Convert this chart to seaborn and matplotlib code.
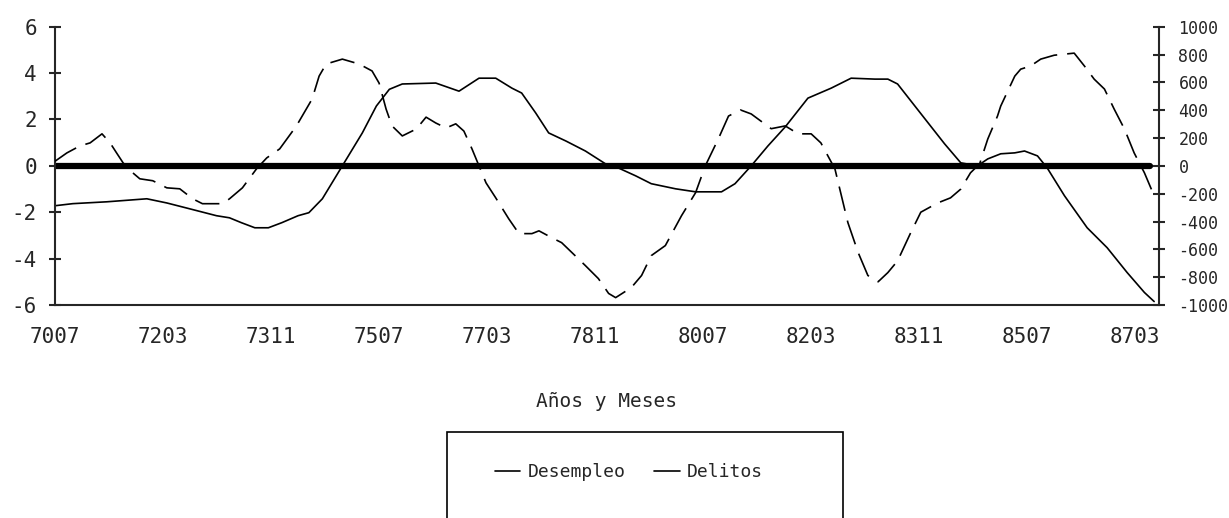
import numpy as np
import pandas as pd
import matplotlib
matplotlib.use("Agg")
import matplotlib.pyplot as plt
import seaborn as sns
from matplotlib.lines import Line2D
from matplotlib.patches import Rectangle

# --- Data ---
# x = months since 7007 (July 1970)
tick_pos = [0, 20, 40, 60, 80, 100, 120, 140, 160, 180, 200]
tick_labels = ["7007", "7203", "7311", "7507", "7703", "7811",
               "8007", "8203", "8311", "8507", "8703"]

desempleo_mes = [0, 3.3, 9.6, 17, 20.7, 24.9, 29.9, 32.3, 34.5, 37, 39.5, 42, 45, 47,
                 49.5, 53.2, 56.9, 59.5, 61.9, 64.3, 67.4, 70.5, 74.8, 78.5, 81.6,
                 84.6, 86.4, 89, 91.4, 94.6, 98.2, 101.9, 104.3, 107.5, 110.4, 114.9,
                 118.6, 123.4, 125.9, 128.9, 132, 135.2, 139.4, 143.7, 147.4, 151.8,
                 154.2, 156, 159.2, 162.1, 164.7, 167.7, 170.8, 172.7, 175.1, 177.7,
                 179.5, 181.9, 183.7, 186.9, 191.1, 194.8, 198.5, 201.7, 203.5]
desempleo = [-1.72, -1.63, -1.55, -1.42, -1.6, -1.85, -2.15, -2.24, -2.45, -2.67, -2.67,
             -2.45, -2.15, -2.02, -1.42, 0.0, 1.42, 2.58, 3.3, 3.53, 3.55, 3.57, 3.22,
             3.78, 3.78, 3.35, 3.14, 2.28, 1.42, 1.07, 0.64, 0.09, -0.09, -0.43, -0.77,
             -0.99, -1.12, -1.12, -0.77, 0.0, 0.86, 1.68, 2.92, 3.35, 3.78, 3.74, 3.74,
             3.53, 2.58, 1.72, 0.95, 0.13, 0.0, 0.3, 0.52, 0.56, 0.64, 0.43, -0.09,
             -1.29, -2.67, -3.53, -4.6, -5.46, -5.85]

delitos_mes = [0, 2.2, 4.6, 6.5, 8.7, 10.2, 11.4, 12.6, 14.4, 15.7, 18.1, 20.7, 23.1,
               25.5, 27.3, 31, 32.3, 34.7, 37.3, 39.2, 41.6, 44.7, 47.6, 48.9, 50.2,
               53.2, 56.3, 58.7, 60, 61.3, 62.4, 64.3, 66.9, 68.7, 70.5, 72.4, 74.2,
               75.7, 77.2, 78.5, 79.8, 81.6, 84, 85.9, 88.3, 89.6, 92, 93.8, 95.7, 98.2,
               100.6, 102.5, 103.8, 106.7, 108.6, 110.4, 113, 116, 118.6, 120.4, 122.8,
               124.7, 126.9, 128.9, 132.6, 135.2, 137.6, 140, 141.8, 144.4, 146.8,
               148.7, 150.5, 152.4, 154.2, 156, 158.4, 160.3, 163.4, 165.8, 167.7,
               169.5, 171.2, 172.7, 174.5, 175.1, 177.7, 178.8, 180.6, 182.5, 185,
               188.7, 190.6, 192.4, 194.3, 196.1, 198, 199.8, 201.7, 203.5]
delitos = [33, 93, 143, 165, 230, 165, 93, 22, -50, -93, -107, -158, -165, -237, -272,
           -272, -237, -158, -22, 57, 122, 287, 480, 645, 732, 767, 732, 682, 595, 408,
           287, 215, 265, 350, 308, 272, 302, 250, 122, 0, -122, -230, -380, -487, -487,
           -467, -517, -552, -623, -717, -810, -917, -947, -875, -788, -645, -573, -358,
           -193, 0, 193, 358, 402, 373, 267, 287, 230, 230, 165, -22, -408, -623, -788,
           -833, -767, -683, -483, -333, -267, -230, -167, -50, 15, 193, 358, 430, 645,
           695, 717, 767, 795, 810, 717, 623, 552, 408, 265, 93, -50, -215]

df_des = pd.DataFrame({"mes": desempleo_mes, "valor": desempleo})
df_del = pd.DataFrame({"mes": delitos_mes, "valor": delitos})

# --- Style ---
sns.set_style("white")
plt.rcParams["font.family"] = ["DejaVu Sans Mono", "DejaVu Sans"]
plt.rcParams["axes.unicode_minus"] = False

W, H = 1229, 518
fig = plt.figure(figsize=(W / 100, H / 100), dpi=100)
ax = fig.add_axes([55 / W, 1 - 305 / H, 1104 / W, 278.3 / H])
ax2 = ax.twinx()

sns.lineplot(data=df_des, x="mes", y="valor", ax=ax, color="black", lw=1.2)
sns.lineplot(data=df_del, x="mes", y="valor", ax=ax2, color="black", lw=1.2)
ax2.lines[-1].set_dashes([15, 6])

ax.axhline(0, xmin=0, xmax=0.992, color="black", lw=4.5, zorder=1)

ax.set_xlim(0, 204.4)
ax.set_ylim(-6, 6)
ax2.set_ylim(-1000, 1000)

ax.set_xticks(tick_pos)
ax.set_xticklabels(tick_labels, fontsize=15)
ax.set_yticks(np.arange(-6, 7, 2))
ax.set_yticklabels([str(v) for v in range(-6, 7, 2)], fontsize=15)
ax2.set_yticks(np.arange(-1000, 1001, 200))
ax2.set_yticklabels([str(v) for v in range(-1000, 1001, 200)], fontsize=12)

for a in (ax, ax2):
    a.spines["top"].set_visible(False)
    for s in a.spines.values():
        s.set_linewidth(1.5)
    a.set_ylabel("")
ax.spines["right"].set_visible(False)
ax2.spines["left"].set_visible(False)
ax2.spines["bottom"].set_visible(False)

ax.tick_params(axis="both", direction="inout", length=8, width=1.5, pad=9)
ax.tick_params(axis="x", pad=12)
ax2.tick_params(axis="y", direction="inout", length=8, width=1.5, pad=10)

ax.set_xlabel("Años y Meses", fontsize=14, labelpad=32)

# legend box
handles = [Line2D([], [], color="black", lw=1.2), Line2D([], [], color="black", lw=1.2)]
fig.legend(handles, ["Desempleo", "Delitos"], loc="center",
           bbox_to_anchor=(629 / W, 1 - 472 / H), ncol=2, frameon=False,
           fontsize=13, handlelength=1.4, handletextpad=0.4, columnspacing=1.6)
fig.patches.append(Rectangle((447 / W, -0.02), (843 - 447) / W, (518 - 432) / H + 0.02,
                             transform=fig.transFigure, fill=False, lw=1.2,
                             edgecolor="black"))

fig.savefig("out.png", dpi=100)
